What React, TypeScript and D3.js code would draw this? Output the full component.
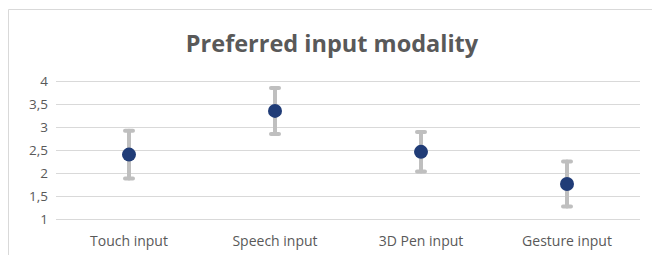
import React from 'react';
import * as d3 from 'd3';

const categories = ['Touch input', 'Speech input', '3D Pen input', 'Gesture input'];
const means = [2.4, 3.35, 2.46, 1.76];
const errors = [0.52, 0.5, 0.43, 0.49];
const yTicks = [1, 1.5, 2, 2.5, 3, 3.5, 4];

const W = 652;
const H = 255;
const margin = { top: 81, right: 12, bottom: 36, left: 56 };
const font = "'Open Sans', sans-serif";

const App = () => {
  const x = d3.scaleBand<string>()
    .domain(categories)
    .range([margin.left, W - margin.right]);

  const y = d3.scaleLinear()
    .domain([1, 4])
    .range([H - margin.bottom, margin.top]);

  const fmt = (v: number) => String(v).replace('.', ',');

  return (
    <svg width={W} height={H} style={{ position: 'absolute', left: 0, top: 0 }}>
      <rect x={0} y={0} width={W} height={H} fill="#fff" />
      {/* chart frame, cut off at right and bottom */}
      <path d={`M8.5,${H} V9.5 H${W}`} fill="none" stroke="#d9d9d9" strokeWidth={1} />

      <text x={332} y={52} textAnchor="middle" fontFamily={font} fontWeight="bold"
        fontSize={23.5} fill="#595959">Preferred input modality</text>

      {/* gridlines + y labels */}
      {yTicks.map(t => (
        <g key={t}>
          <line x1={margin.left} x2={W - margin.right} y1={Math.round(y(t)) + 0.5} y2={Math.round(y(t)) + 0.5}
            stroke="#d9d9d9" strokeWidth={1} />
          <text x={48} y={y(t)} dy="0.35em" textAnchor="end" fontFamily={font} fontSize={13.5}
            fill="#595959">{fmt(t)}</text>
        </g>
      ))}

      {/* category labels */}
      {categories.map(c => (
        <text key={c} x={x(c)! + x.bandwidth() / 2} y={246} textAnchor="middle" fontFamily={font}
          fontSize={14} fill="#595959">{c}</text>
      ))}

      {/* error bars */}
      {categories.map((c, i) => {
        const cx = x(c)! + x.bandwidth() / 2;
        const top = y(means[i] + errors[i]);
        const bot = y(means[i] - errors[i]);
        return (
          <g key={c} stroke="#bfbfbf" strokeWidth={4} strokeLinecap="round">
            <line x1={cx} x2={cx} y1={top} y2={bot} />
            <line x1={cx - 4} x2={cx + 4} y1={top} y2={top} />
            <line x1={cx - 4} x2={cx + 4} y1={bot} y2={bot} />
          </g>
        );
      })}

      {/* mean points */}
      {categories.map((c, i) => (
        <circle key={c} cx={x(c)! + x.bandwidth() / 2} cy={y(means[i])} r={7} fill="#203c77" />
      ))}
    </svg>
  );
};

export default App;
